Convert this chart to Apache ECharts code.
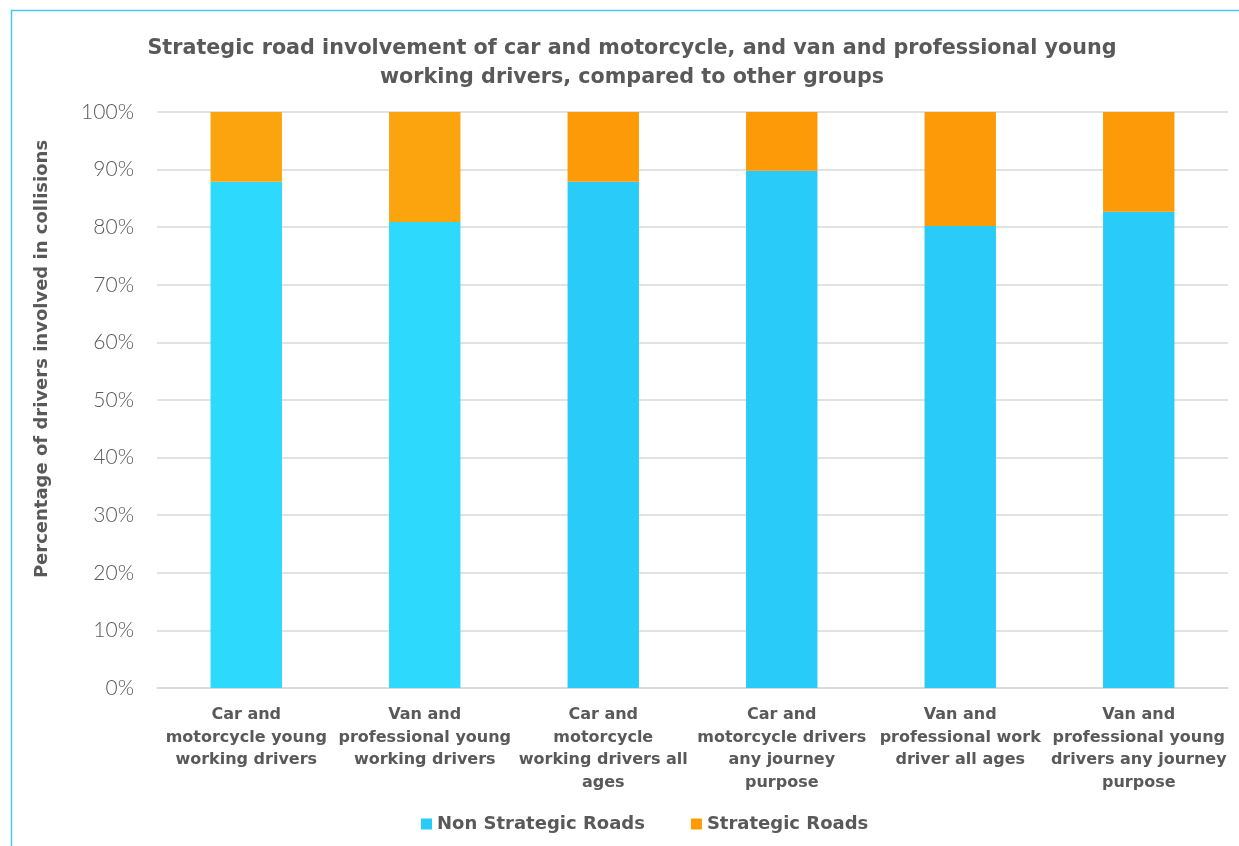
<!DOCTYPE html>
<html>
<head>
<meta charset="utf-8">
<script src="https://cdn.jsdelivr.net/npm/echarts@6/dist/echarts.min.js"></script>
<style>
  html, body { margin: 0; padding: 0; background: #fff; }
  #chart { width: 1239px; height: 846px; }
</style>
</head>
<body>
<div id="chart"></div>
<script>
const categories = [
  'Car and\nmotorcycle young\nworking drivers',
  'Van and\nprofessional young\nworking drivers',
  'Car and\nmotorcycle\nworking drivers all\nages',
  'Car and\nmotorcycle drivers\nany journey\npurpose',
  'Van and\nprofessional work\ndriver all ages',
  'Van and\nprofessional young\ndrivers any journey\npurpose'
]
const nonStrategic = [87.9, 80.9, 87.9, 89.8, 80.2, 82.7]
const strategic = [12.1, 19.1, 12.1, 10.2, 19.8, 17.3]

// first two bars are a slightly lighter shade in the original
const blueShades = ['#2dd9fd', '#2dd9fd', '#29cbf8', '#29cbf8', '#29cbf8', '#29cbf8']
const orangeShades = ['#fca40e', '#fca40e', '#fd9a08', '#fd9a08', '#fd9a08', '#fd9a08']

const textColor = '#595959'
const boldFont = "'DejaVu Sans', sans-serif"
const lightFont = "Lato, 'Open Sans', sans-serif"

const chart = echarts.init(document.getElementById('chart'))

chart.setOption({
  animation: false,
  textStyle: { fontFamily: boldFont },
  title: {
    text: 'Strategic road involvement of car and motorcycle, and van and professional young\nworking drivers, compared to other groups',
    left: 627,
    textAlign: 'center',
    top: 29,
    textStyle: {
      color: textColor,
      fontSize: 20.7,
      fontWeight: 'bold',
      lineHeight: 29,
      fontFamily: boldFont
    }
  },
  graphic: [{
    type: 'rect',
    shape: { x: 11.5, y: 10.5, width: 1400, height: 1000 },
    style: { fill: 'none', stroke: '#4cc6ee', lineWidth: 1.5 },
    silent: true
  }],
  legend: {
    left: 421,
    top: 815,
    padding: 0,
    itemWidth: 11,
    itemHeight: 11,
    itemGap: 46,
    icon: 'rect',
    textStyle: { color: textColor, fontSize: 18, fontWeight: 'bold', fontFamily: boldFont },
    data: [
      { name: 'Non Strategic Roads', itemStyle: { color: '#29cbf8' } },
      { name: 'Strategic Roads', itemStyle: { color: '#fd9a08' } }
    ]
  },
  grid: {
    left: 157,
    right: 11,
    top: 112,
    bottom: 158
  },
  xAxis: {
    type: 'category',
    data: categories,
    axisLine: { lineStyle: { color: '#d9d9d9', width: 1.5 } },
    axisTick: { show: false },
    axisLabel: {
      interval: 0,
      margin: 16,
      color: textColor,
      fontSize: 16,
      fontWeight: 'bold',
      lineHeight: 22.5,
      fontFamily: boldFont
    }
  },
  yAxis: {
    type: 'value',
    min: 0,
    max: 100,
    interval: 10,
    name: 'Percentage of drivers involved in collisions',
    nameLocation: 'middle',
    nameGap: 106,
    nameTextStyle: {
      color: textColor,
      fontSize: 18,
      fontWeight: 'bold',
      fontFamily: boldFont,
      padding: [0, 0, 0, 82]
    },
    axisLine: { show: false },
    axisTick: { show: false },
    axisLabel: {
      formatter: '{value}%',
      margin: 23,
      color: textColor,
      fontSize: 21,
      fontWeight: 300,
      fontFamily: lightFont
    },
    splitLine: { lineStyle: { color: '#d9d9d9', width: 1.5 } }
  },
  series: [
    {
      name: 'Non Strategic Roads',
      type: 'bar',
      stack: 'total',
      barWidth: '40%',
      itemStyle: { color: '#29cbf8' },
      data: nonStrategic.map((v, i) => ({ value: v, itemStyle: { color: blueShades[i] } }))
    },
    {
      name: 'Strategic Roads',
      type: 'bar',
      stack: 'total',
      barWidth: '40%',
      itemStyle: { color: '#fd9a08' },
      data: strategic.map((v, i) => ({ value: v, itemStyle: { color: orangeShades[i] } }))
    }
  ]
})

window.addEventListener('resize', () => chart.resize())
</script>
</body>
</html>
